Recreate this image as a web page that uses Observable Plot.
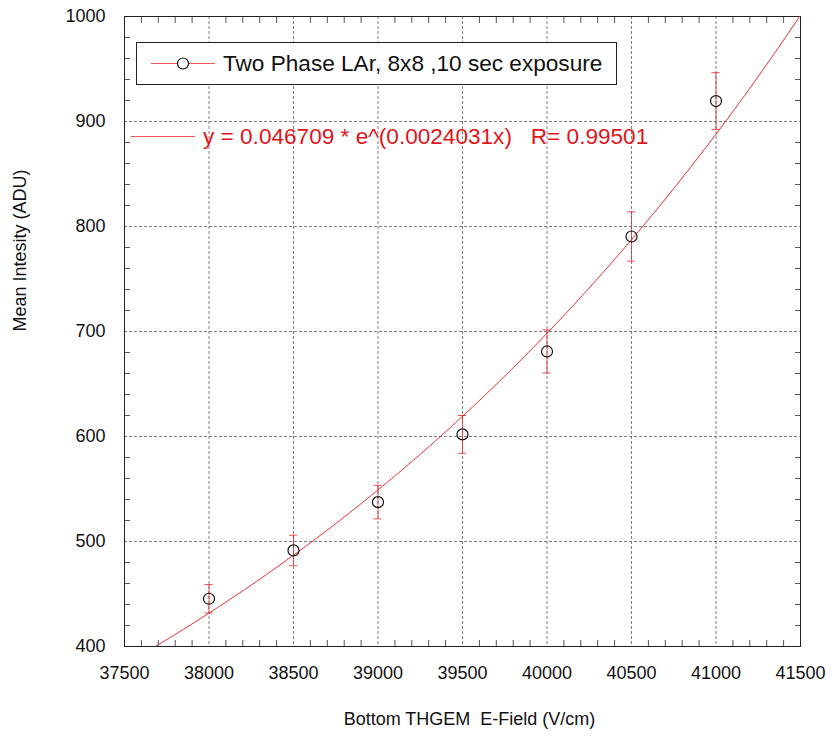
<!DOCTYPE html>
<html>
<head>
<meta charset="utf-8">
<script src="https://cdn.jsdelivr.net/npm/d3@7"></script>
<script src="https://cdn.jsdelivr.net/npm/@observablehq/plot@0.6"></script>
<style>
  html, body { margin: 0; padding: 0; background: #fff; }
  svg text { white-space: pre; }
</style>
</head>
<body>
<div id="chart"></div>
<script>
// Measured field values (V/cm) and mean intensities (ADU) with their errors
const fieldValues = [38000, 38500, 39000, 39500, 40000, 40500, 41000];
const meanIntensity = [445.5, 491.5, 537.5, 602, 681, 790.5, 919.5];
const intensityError = [13.5, 14.5, 16, 18, 20.5, 23.5, 27];

// Exponential fit reported for the series (x entered as field / 10)
const fitA = 0.046709;
const fitB = 0.0024031;
const fitR = 0.99501;
const fitFieldRange = [37500, 41500];

// Tick positions
const xMajorTicks = [37500, 38000, 38500, 39000, 39500, 40000, 40500, 41000, 41500];
const xMinorTicks = d3.range(37500, 41501, 100).filter(v => v % 500 !== 0);
const yMajorTicks = [400, 500, 600, 700, 800, 900, 1000];
const yMinorTicks = d3.range(400, 1001, 20).filter(v => v % 100 !== 0);

const legendLabel = "Two Phase LAr, 8x8 ,10 sec exposure";
const fitLabel = `y = ${fitA} * e^(${fitB}x)   R= ${fitR}`;
const xTitle = "Bottom THGEM  E-Field (V/cm)";
const yTitle = "Mean Intesity (ADU)";

const points = fieldValues.map((x, i) => ({x, y: meanIntensity[i], e: intensityError[i]}));
const fitCurve = d3.range(fitFieldRange[0], fitFieldRange[1] + 1, 10)
  .map(x => ({x, y: fitA * Math.exp(fitB * x / 10)}));

const font = "'Liberation Sans', Arial, Helvetica, sans-serif";
const red = "#e8262b";
const capHalf = 24;

const chart = Plot.plot({
  width: 831,
  height: 737,
  marginLeft: 124,
  marginRight: 31,
  marginTop: 16,
  marginBottom: 91,
  style: {fontFamily: font, background: "#fff"},
  x: {domain: [37500, 41500]},
  y: {domain: [400, 1000]},
  marks: [
    Plot.gridX(xMajorTicks, {stroke: "#555", strokeOpacity: 0.75, strokeDasharray: "3,2"}),
    Plot.gridY(yMajorTicks, {stroke: "#555", strokeOpacity: 0.75, strokeDasharray: "3,2"}),
    // inward minor ticks on all four sides
    Plot.axisX(xMinorTicks, {anchor: "bottom", tickSize: -6, tickFormat: () => "", label: null, stroke: "#555"}),
    Plot.axisX(xMinorTicks, {anchor: "top", tickSize: -6, tickFormat: () => "", label: null, stroke: "#555"}),
    Plot.axisY(yMinorTicks, {anchor: "left", tickSize: -6, tickFormat: () => "", label: null, stroke: "#555"}),
    Plot.axisY(yMinorTicks, {anchor: "right", tickSize: -6, tickFormat: () => "", label: null, stroke: "#555"}),
    // tick labels
    Plot.axisX(xMajorTicks, {anchor: "bottom", tickSize: 0, tickPadding: 20, tickFormat: d3.format("d"), label: null, fontSize: 18, fill: "#111"}),
    Plot.axisY(yMajorTicks, {anchor: "left", tickSize: 0, tickPadding: 19, tickFormat: d3.format("d"), label: null, fontSize: 18, fill: "#111"}),
    Plot.frame({stroke: "#222", strokeWidth: 1}),
    // fitted curve
    Plot.line(fitCurve, {x: "x", y: "y", stroke: red, strokeWidth: 1, clip: "frame"}),
    // error bars with caps
    Plot.ruleX(points, {x: "x", y1: d => d.y - d.e, y2: d => d.y + d.e, stroke: red, strokeOpacity: 0.8, strokeWidth: 1}),
    Plot.ruleY(points, {y: d => d.y + d.e, x1: d => d.x - capHalf, x2: d => d.x + capHalf, stroke: red, strokeOpacity: 0.8, strokeWidth: 1}),
    Plot.ruleY(points, {y: d => d.y - d.e, x1: d => d.x - capHalf, x2: d => d.x + capHalf, stroke: red, strokeOpacity: 0.8, strokeWidth: 1}),
    // data points
    Plot.dot(points, {x: "x", y: "y", r: 5.5, stroke: "#111", strokeWidth: 1.2, fill: "none"}),
    // axis titles
    Plot.text([xTitle], {frameAnchor: "bottom", text: d => d, dy: 78, dx: 7, fontSize: 18, fill: "#111"}),
    Plot.text([yTitle], {frameAnchor: "left", text: d => d, dx: -104, rotate: -90, fontSize: 18, fill: "#111"})
  ]
});

// legend box and fit annotation
const svg = d3.select(chart);
const legend = svg.append("g").attr("font-family", font).attr("text-anchor", "start");
legend.append("rect")
  .attr("x", 136.5).attr("y", 42.5).attr("width", 480).attr("height", 42)
  .attr("fill", "#fff").attr("stroke", "#222").attr("stroke-width", 1);
legend.append("line")
  .attr("x1", 151).attr("x2", 215).attr("y1", 63.5).attr("y2", 63.5)
  .attr("stroke", "#ee5555").attr("stroke-width", 1);
legend.append("circle")
  .attr("cx", 183).attr("cy", 63.5).attr("r", 5.5)
  .attr("fill", "#fff").attr("stroke", "#111").attr("stroke-width", 1.2);
legend.append("text")
  .attr("x", 223).attr("y", 71).attr("font-size", 22.6).attr("fill", "#111")
  .text(legendLabel);
legend.append("line")
  .attr("x1", 131).attr("x2", 195).attr("y1", 136.5).attr("y2", 136.5)
  .attr("stroke", "#ee5555").attr("stroke-width", 1);
legend.append("text")
  .attr("x", 203).attr("y", 144).attr("font-size", 22.6).attr("fill", "#e0151b")
  .text(fitLabel);

document.getElementById("chart").appendChild(chart);
</script>
</body>
</html>
